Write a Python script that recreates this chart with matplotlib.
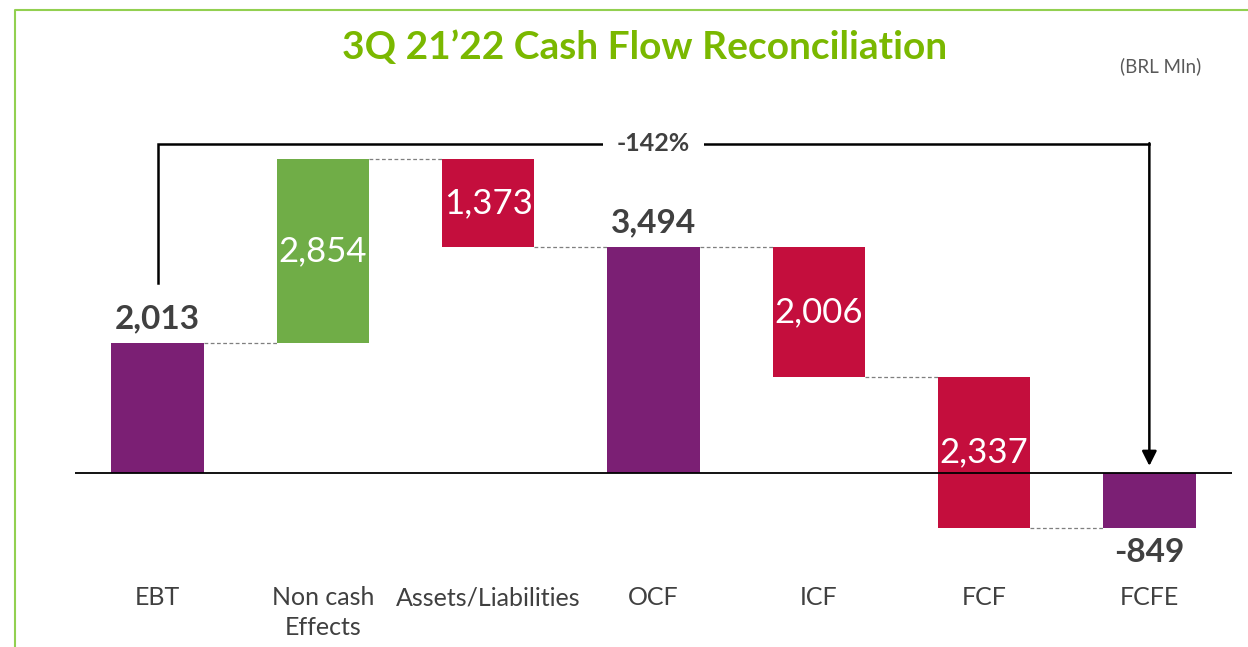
import numpy as np
import matplotlib.pyplot as plt
from matplotlib.patches import Rectangle

categories = ['EBT', 'Non cash\nEffects', 'Assets/Liabilities', 'OCF', 'ICF', 'FCF', 'FCFE']
values = [2013, 2854, -1373, 3494, -2006, -2337, -849]
# 'total' bars start at zero, 'delta' bars float on the running sum
kinds = ['total', 'delta', 'delta', 'total', 'delta', 'delta', 'total']
change_label = '-142%'

purple = '#7B1F74'
green = '#70AD47'
red = '#C40E3D'
gray_txt = '#404040'
title_green = '#7AB800'

plt.rcParams['font.family'] = ['Lato', 'DejaVu Sans']

fig = plt.figure(figsize=(12.48, 6.47), dpi=100)
W, H = 1248, 647
ax = fig.add_axes([75 / W, 1 - 580 / H, (1232 - 75) / W, (580 - 100) / H])
zero_px, scale = 473, 0.0646
ax.set_ylim((473 - 580) / scale, (473 - 100) / scale)
ax.set_xlim(-0.5, 6.5)
ax.axis('off')

bw = 0.56
running = 0
for i, (v, k) in enumerate(zip(values, kinds)):
    if k == 'total':
        b, t = min(0, v), max(0, v)
        running = v
        col = purple
    else:
        start = running
        running = running + v
        b, t = min(start, running), max(start, running)
        col = green if v > 0 else red
    ax.add_patch(Rectangle((i - bw / 2, b), bw, t - b, color=col, lw=0, zorder=2))
    txt = f'{abs(v):,}' if k == 'delta' else f'{v:,}'
    if k == 'delta':
        ax.text(i, (b + t) / 2, txt, ha='center', va='center', color='white',
                fontsize=25, zorder=4)
    elif v >= 0:
        ax.text(i, t + 150, txt, ha='center', va='bottom', color=gray_txt,
                fontsize=24, fontweight='bold', zorder=4)
    else:
        ax.text(i, b - 150, txt, ha='center', va='top', color=gray_txt,
                fontsize=24, fontweight='bold', zorder=4)

# dashed connectors at the running level between bars
running = 0
for i, (v, k) in enumerate(zip(values, kinds)):
    running = v if k == 'total' else running + v
    if i < len(values) - 1:
        ax.plot([i + bw / 2, i + 1 - bw / 2], [running, running], ls=(0, (3, 2)),
                color='#7F7F7F', lw=0.9, zorder=1)

# zero line
ax.plot([-0.5, 6.5], [0, 0], color='black', lw=1.3, zorder=3)

# bracket with percent change
top_y = 5093
ax.plot([0, 0, 6], [2941, top_y, top_y], color='black', lw=1.8, solid_joinstyle='miter', zorder=3)
ax.annotate('', xy=(6, 110), xytext=(6, top_y + 12),
            arrowprops=dict(arrowstyle='-|>', color='black', lw=1.8,
                            mutation_scale=22, shrinkA=0, shrinkB=0), zorder=3)
ax.text(3, top_y, change_label, ha='center', va='center', fontsize=18, fontweight='bold',
        color=gray_txt, zorder=4,
        bbox=dict(facecolor='white', edgecolor='none', pad=10))

for i, c in enumerate(categories):
    fig.text((75 + (i + 0.5) * (1157 / 7)) / W, 1 - 586 / H, c, ha='center', va='top',
             fontsize=18, color=gray_txt, linespacing=1.35)

fig.text(645 / W, 1 - 48 / H, '3Q 21’22 Cash Flow Reconciliation', ha='center', va='center',
         fontsize=28, fontweight='bold', color=title_green)
fig.text(1161 / W, 1 - 66 / H, '(BRL Mln)', ha='center', va='center', fontsize=13.5, color='#595959')

# slide frame
fig.add_artist(plt.Line2D([15 / W, 15 / W, 1.0], [0, 1 - 10 / H, 1 - 10 / H],
                          transform=fig.transFigure, color='#92D050', lw=1.5))

fig.savefig('out.png', dpi=100)
